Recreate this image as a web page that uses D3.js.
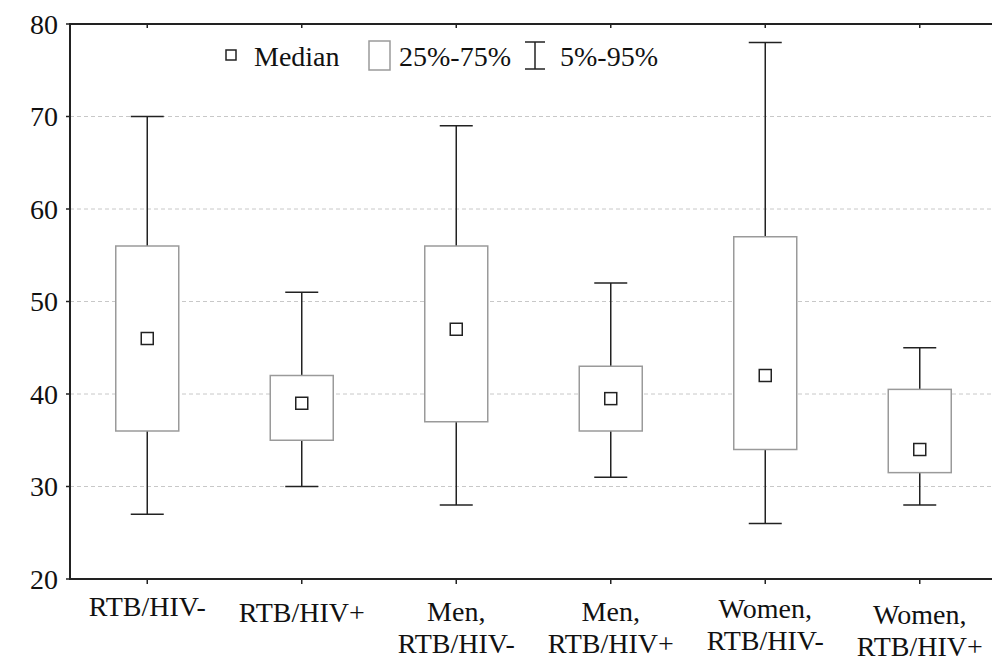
<!DOCTYPE html>
<html><head><meta charset="utf-8">
<script src="https://cdn.jsdelivr.net/npm/d3@7"></script>
<style>html,body{margin:0;padding:0;background:#fff;}svg{display:block;}</style>
</head><body>
<svg id="chart" width="992" height="662"></svg>
<script>
const categories = [["RTB/HIV-"],["RTB/HIV+"],["Men,","RTB/HIV-"],["Men,","RTB/HIV+"],["Women,","RTB/HIV-"],["Women,","RTB/HIV+"]];
const p05 = [27, 30, 28, 31, 26, 28];
const p25 = [36, 35, 37, 36, 34, 31.5];
const median = [46, 39, 47, 39.5, 42, 34];
const p75 = [56, 42, 56, 43, 57, 40.5];
const p95 = [70, 51, 69, 52, 78, 45];
const yTicks = [20, 30, 40, 50, 60, 70, 80];
const legendLabels = ["Median", "25%-75%", "5%-95%"];

const svg = d3.select("#chart");
const font = "'Liberation Serif', 'Times New Roman', serif";
const L = 70, T = 24, B = 579, R = 997;
const labelBase = [616, 622, 621, 621, 618, 624];
const idx = categories.map((d,i)=>i);
const x = d3.scaleBand().domain(idx).range([L, R]);
const y = d3.scaleLinear().domain([20, 80]).range([B, T]);
const cx = i => x(i) + x.bandwidth()/2;

// grid
svg.append("g").selectAll("line").data(yTicks.filter(t=>t>20 && t<80)).join("line")
  .attr("x1", L).attr("x2", 992).attr("y1", d=>y(d)).attr("y2", d=>y(d))
  .attr("stroke", "#c8c8c8").attr("stroke-width", 1).attr("stroke-dasharray", "4,3");

// boxes
const g = svg.append("g");
const boxW = 63, capW = 33, medS = 12;
idx.forEach(i => {
  const c = cx(i);
  g.append("line").attr("x1", c).attr("x2", c).attr("y1", y(p75[i])).attr("y2", y(p95[i])).attr("stroke", "#222").attr("stroke-width", 1.5);
  g.append("line").attr("x1", c).attr("x2", c).attr("y1", y(p25[i])).attr("y2", y(p05[i])).attr("stroke", "#222").attr("stroke-width", 1.5);
  g.append("line").attr("x1", c-capW/2).attr("x2", c+capW/2).attr("y1", y(p95[i])).attr("y2", y(p95[i])).attr("stroke", "#222").attr("stroke-width", 1.5);
  g.append("line").attr("x1", c-capW/2).attr("x2", c+capW/2).attr("y1", y(p05[i])).attr("y2", y(p05[i])).attr("stroke", "#222").attr("stroke-width", 1.5);
  g.append("rect").attr("x", c-boxW/2).attr("width", boxW).attr("y", y(p75[i])).attr("height", y(p25[i])-y(p75[i]))
    .attr("fill", "#fff").attr("stroke", "#9a9a9a").attr("stroke-width", 1.5);
  g.append("rect").attr("x", c-medS/2).attr("y", y(median[i])-medS/2).attr("width", medS).attr("height", medS)
    .attr("fill", "#fff").attr("stroke", "#222").attr("stroke-width", 1.5);
});

// axes frame
const ax = svg.append("g").attr("stroke", "#222").attr("stroke-width", 2);
ax.append("line").attr("x1", L).attr("x2", L).attr("y1", T-1).attr("y2", B+1);
ax.append("line").attr("x1", L).attr("x2", 992).attr("y1", T).attr("y2", T);
ax.append("line").attr("x1", L).attr("x2", 992).attr("y1", B).attr("y2", B);
// y ticks
svg.append("g").selectAll("line").data(yTicks).join("line")
  .attr("x1", L-4).attr("x2", L).attr("y1", d=>y(d)).attr("y2", d=>y(d)).attr("stroke", "#222").attr("stroke-width", 1.5);
svg.append("g").selectAll("text").data(yTicks).join("text")
  .attr("x", L-12).attr("y", d=>y(d)).attr("dy", "0.35em").attr("text-anchor", "end")
  .attr("font-family", font).attr("font-size", 28).attr("fill", "#111").text(d=>d);
// x ticks
svg.append("g").selectAll("line").data(idx).join("line")
  .attr("x1", cx).attr("x2", cx).attr("y1", B).attr("y2", B+5).attr("stroke", "#222").attr("stroke-width", 1.5);
svg.append("g").selectAll("line").data(idx).join("line")
  .attr("x1", cx).attr("x2", cx).attr("y1", T).attr("y2", T+4).attr("stroke", "#222").attr("stroke-width", 1.5);
// x labels
const xl = svg.append("g").attr("font-family", font).attr("font-size", 28).attr("fill", "#111").attr("text-anchor", "middle");
idx.forEach(i => {
  categories[i].forEach((line, k) => {
    xl.append("text").attr("x", cx(i)).attr("y", labelBase[i] + k*32).text(line);
  });
});

// legend
const lg = svg.append("g").attr("font-family", font).attr("font-size", 28).attr("fill", "#111");
lg.append("rect").attr("x", 226).attr("y", 50).attr("width", 10).attr("height", 10).attr("fill", "#fff").attr("stroke", "#222").attr("stroke-width", 1.5);
lg.append("text").attr("x", 254).attr("y", 66).text(legendLabels[0]);
lg.append("rect").attr("x", 369).attr("y", 41).attr("width", 21).attr("height", 29).attr("fill", "#fff").attr("stroke", "#9a9a9a").attr("stroke-width", 1.5);
lg.append("text").attr("x", 399).attr("y", 66).text(legendLabels[1]);
lg.append("line").attr("x1", 535).attr("x2", 535).attr("y1", 42).attr("y2", 69).attr("stroke", "#222").attr("stroke-width", 1.5);
lg.append("line").attr("x1", 525).attr("x2", 545).attr("y1", 42).attr("y2", 42).attr("stroke", "#222").attr("stroke-width", 1.5);
lg.append("line").attr("x1", 525).attr("x2", 545).attr("y1", 69).attr("y2", 69).attr("stroke", "#222").attr("stroke-width", 1.5);
lg.append("text").attr("x", 560).attr("y", 66).text(legendLabels[2]);
</script>
</body></html>
